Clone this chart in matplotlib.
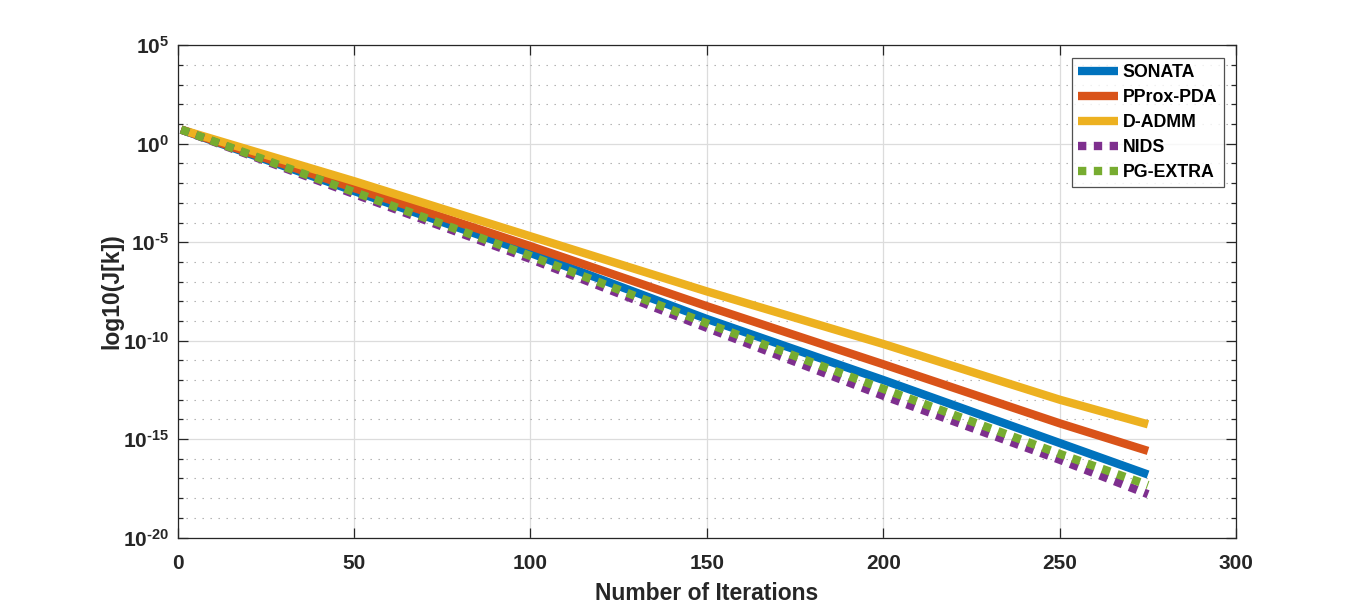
import numpy as np
import matplotlib
matplotlib.use("Agg")
import matplotlib.pyplot as plt
from matplotlib.ticker import FixedLocator, FuncFormatter, NullFormatter

# ---- data ----
iters = [1, 50, 100, 150, 200, 250, 275]
# log10 of J[k] at those iterations
sonata_exp = [0.72, -2.40, -5.55, -8.90, -12.00, -15.20, -16.80]
pprox_exp  = [0.72, -2.25, -5.20, -8.25, -11.20, -14.20, -15.60]
dadmm_exp  = [0.72, -1.90, -4.70, -7.50, -10.17, -13.00, -14.25]
nids_exp   = [0.72, -2.55, -5.85, -9.35, -12.80, -16.05, -17.80]
pgextra_exp = [0.72, -2.45, -5.70, -9.12, -12.45, -15.75, -17.33]

series_names = ["SONATA", "PProx-PDA", "D-ADMM", "NIDS", "PG-EXTRA"]
series_exps = [sonata_exp, pprox_exp, dadmm_exp, nids_exp, pgextra_exp]
series_colors = ["#0072BD", "#D95319", "#EDB120", "#7E2F8E", "#77AC30"]
series_dotted = [False, False, False, True, True]

xticks = [0, 50, 100, 150, 200, 250, 300]
ymajor_exp = [-20, -15, -10, -5, 0, 5]

plt.rcParams['font.family'] = ['Liberation Sans', 'DejaVu Sans']
plt.rcParams['font.weight'] = 'bold'
plt.rcParams['mathtext.fontset'] = 'custom'
plt.rcParams['mathtext.rm'] = 'Liberation Sans:bold'
plt.rcParams['mathtext.it'] = 'Liberation Sans:bold'
plt.rcParams['mathtext.bf'] = 'Liberation Sans:bold'
plt.rcParams['mathtext.default'] = 'rm'
plt.rcParams['axes.unicode_minus'] = False

axc = "#262626"
fig = plt.figure(figsize=(13.66, 6.04), dpi=100)
ax = fig.add_axes([0.13, 0.11, 0.775, 0.815])

for name, exps, col, dotted in zip(series_names, series_exps, series_colors, series_dotted):
    y = 10.0 ** np.array(exps)
    if dotted:
        ax.plot(iters, y, color=col, lw=6, linestyle=(0, (1.0, 0.9)),
                dash_capstyle='butt', label=name)
    else:
        ax.plot(iters, y, color=col, lw=6, solid_capstyle='butt', label=name)


def fmt_log(v, p):
    e = int(round(np.log10(v)))
    return r'$10^{\text{%d}}$' % e


ax.set_yscale('log')
ax.set_xlim(0, 300)
ax.set_ylim(1e-20, 1e5)
ax.xaxis.set_major_locator(FixedLocator(xticks))
ax.yaxis.set_major_locator(FixedLocator([10.0 ** e for e in ymajor_exp]))
ax.yaxis.set_minor_locator(FixedLocator([10.0 ** e for e in range(-20, 6) if e % 5 != 0]))
ax.yaxis.set_major_formatter(FuncFormatter(fmt_log))
ax.yaxis.set_minor_formatter(NullFormatter())

ax.grid(True, which='major', color='#dcdcdc', lw=0.9, ls='-')
ax.grid(True, which='minor', axis='y', color='#a8a8a8', lw=0.8, ls=(0, (1.2, 6)))
ax.set_axisbelow(True)

for s in ax.spines.values():
    s.set_color(axc)
    s.set_linewidth(0.9)
ax.tick_params(which='both', direction='in', top=True, right=True, colors=axc,
               labelsize=15, width=0.9)
ax.tick_params(which='major', length=7)
ax.tick_params(axis='y', which='major', pad=6)
ax.tick_params(axis='x', which='major', pad=12)
ax.tick_params(which='minor', length=3.5)

ax.set_xlabel("Number of Iterations", fontsize=16.5, fontweight='bold', color=axc, labelpad=6)
ax.set_ylabel("log10(J[k])", fontsize=16.5, fontweight='bold', color=axc, labelpad=0)

leg = ax.legend(loc='upper right', fontsize=12.8, frameon=True, fancybox=False,
                handlelength=2.25, handletextpad=0.25, labelspacing=0.45,
                borderpad=0.35, borderaxespad=0.7)
leg.get_frame().set_edgecolor(axc)
leg.get_frame().set_linewidth(0.9)
for t in leg.get_texts():
    t.set_fontweight('bold')

fig.savefig("out.png", dpi=100, facecolor='white')
